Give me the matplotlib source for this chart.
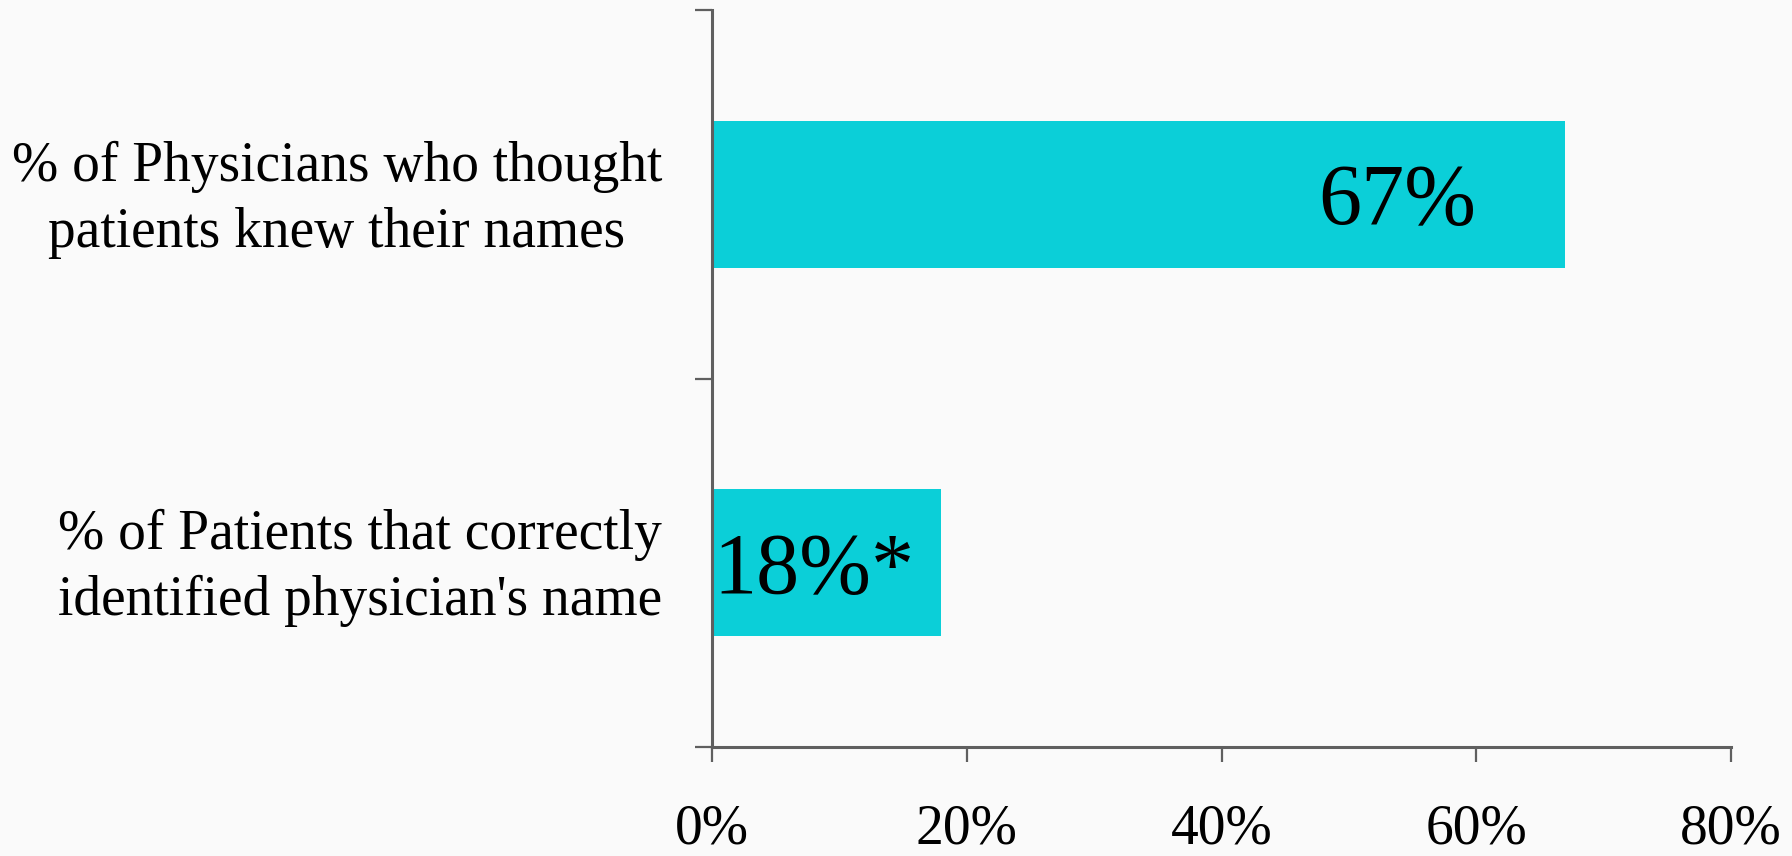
"""
Physician name recognition: what doctors think vs. what patients know.
"""

from matplotlib import pyplot as plt

categories = ["% of Patients that correctly\nidentified physician's name",
              "% of Physicians who thought\npatients knew their names"]
values = [18, 67]
bar_labels = ['18%*', '67%']
xticks = [0, 20, 40, 60, 80]
xtick_labels = ['0%', '20%', '40%', '60%', '80%']

bar_color = '#0bcfd8'
axis_color = '#5f5f5f'
bg = '#fafafa'

plt.rcParams['font.family'] = ['Liberation Serif', 'DejaVu Serif']

fig = plt.figure(figsize=(17.92, 8.56), dpi=100, facecolor=bg)
ax = fig.add_axes([0.3973, 0.1273, 0.5687, 0.861])
ax.set_facecolor(bg)

ypos = list(range(len(categories)))
ax.barh(ypos, values, height=0.4, color=bar_color, zorder=2)

ax.set_xlim(0, 80)
ax.set_ylim(-0.5, 1.5)

for s in ('top', 'right'):
    ax.spines[s].set_visible(False)
for s in ('left', 'bottom'):
    ax.spines[s].set_color(axis_color)
    ax.spines[s].set_linewidth(2.2)

ax.set_xticks(xticks)
ax.set_xticklabels(xtick_labels, fontsize=40)
ax.tick_params(axis='x', length=11, width=1.6, color=axis_color, pad=30)

# category boundaries carry the tick marks, centres carry the labels
ax.set_yticks([-0.5, 0.5, 1.5])
ax.set_yticklabels([])
ax.tick_params(axis='y', which='major', length=12, width=1.6, color=axis_color)
ax.set_yticks([y + 0.02 for y in ypos], minor=True)
ax.set_yticklabels(categories, minor=True, fontsize=40,
                   multialignment='center', linespacing=1.34)
ax.tick_params(axis='y', which='minor', length=0, pad=36)

ax.text(values[1] - 7, ypos[1] - 0.025, bar_labels[1], fontsize=62,
        ha='right', va='center', zorder=3)
ax.text(values[0] / 2 - 1, ypos[0] - 0.025, bar_labels[0], fontsize=62,
        ha='center', va='center', zorder=3)

plt.savefig('out.png', facecolor=bg)
